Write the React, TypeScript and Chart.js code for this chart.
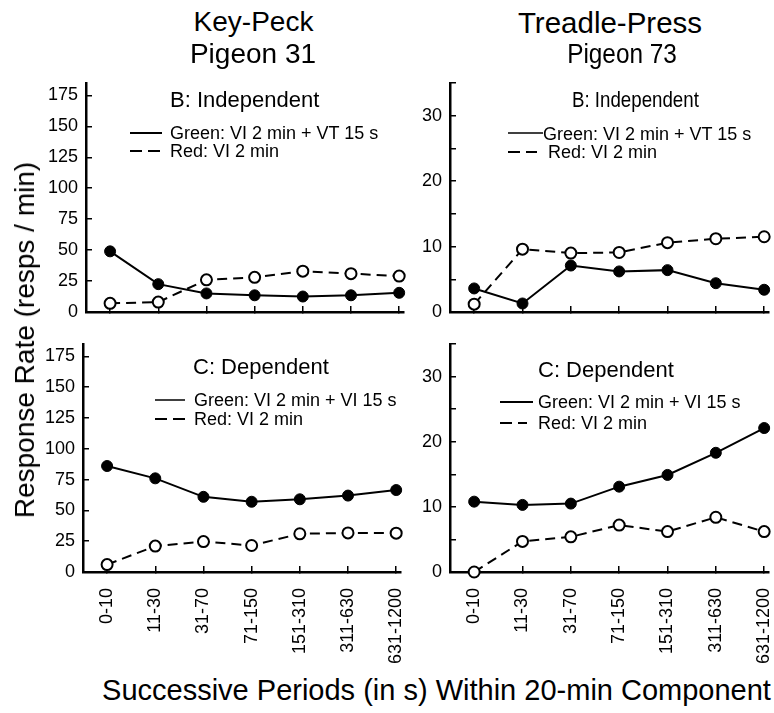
import React, { useEffect, useRef } from "react";
import { Chart, registerables } from "chart.js";

Chart.register(...registerables);

const FONT = '"Liberation Sans", Arial, Helvetica, sans-serif';
Chart.defaults.font.family = FONT;

// Category labels (successive periods, in s)
const periods = ["0-10", "11-30", "31-70", "71-150", "151-310", "311-630", "631-1200"];

// Key-Peck, Pigeon 31
const keyPeckIndepGreen = [49, 22.5, 15, 13.5, 12.5, 13.5, 15.5];
const keyPeckIndepRed = [7, 8, 26, 28, 33, 31, 29];
const keyPeckDepGreen = [86, 76, 61, 57, 59, 62, 66.5];
const keyPeckDepRed = [6, 21, 24.7, 21.5, 31, 31.7, 31.5];

// Treadle-Press, Pigeon 73
const treadleIndepGreen = [3.6, 1.3, 7.1, 6.2, 6.4, 4.4, 3.4];
const treadleIndepRed = [1.2, 9.6, 9.0, 9.1, 10.6, 11.2, 11.5];
const treadleDepGreen = [10.8, 10.3, 10.5, 13.1, 14.9, 18.3, 22.1];
const treadleDepRed = [0, 4.7, 5.4, 7.2, 6.2, 8.4, 6.2];

// Y axis settings
const keyPeckYMax = 185;
const keyPeckYTicks = [0, 25, 50, 75, 100, 125, 150, 175];
const keyPeckYLabels = ["0", "25", "50", "75", "100", "125", "150", "175"];
const treadleYMax = 35;
const treadleYTicks = [0, 5, 10, 15, 20, 25, 30, 35];
const treadleYLabels = ["0", "", "10", "", "20", "", "30", ""];

type Area = { l: number; r: number; t: number; b: number };

function Panel(props: {
  area: Area;
  yMax: number;
  yTicks: number[];
  yLabels: string[];
  green: number[];
  red: number[];
  showX: boolean;
}) {
  const { area, yMax, yTicks, yLabels, green, red, showX } = props;
  const ref = useRef<HTMLCanvasElement>(null);
  const padL = 90;
  const padT = 20;
  const padR = 14;
  const padB = showX ? 100 : 15;
  const left = area.l - padL;
  const top = area.t - padT;
  const w = area.r - area.l + padL + padR;
  const h = area.b - area.t + padT + padB;

  useEffect(() => {
    const chart = new Chart(ref.current as HTMLCanvasElement, {
      type: "line",
      data: {
        datasets: [
          {
            data: green.map((y, i) => ({ x: i, y })),
            borderColor: "#000",
            borderWidth: 2,
            pointRadius: 5.5,
            pointBackgroundColor: "#000",
            pointBorderColor: "#000",
            pointBorderWidth: 1,
            clip: false,
            tension: 0,
          },
          {
            data: red.map((y, i) => ({ x: i, y })),
            borderColor: "#000",
            borderWidth: 2,
            borderDash: [10, 6],
            pointRadius: 5.5,
            pointBackgroundColor: "#fff",
            pointBorderColor: "#000",
            pointBorderWidth: 2,
            clip: false,
            tension: 0,
          },
        ],
      },
      options: {
        responsive: false,
        animation: false,
        devicePixelRatio: 1,
        layout: { padding: { left: 0, top: padT, right: padR, bottom: 0 } },
        plugins: { legend: { display: false }, tooltip: { enabled: false } },
        events: [],
        scales: {
          x: {
            type: "linear",
            min: -0.5,
            max: 6.1,
            afterBuildTicks: (s: any) => {
              s.ticks = periods.map((_, i) => ({ value: i }));
            },
            afterFit: (s: any) => {
              s.height = padB;
              s.paddingLeft = 0;
              s.paddingRight = 0;
            },
            ticks: {
              autoSkip: false,
              display: showX,
              maxRotation: 90,
              minRotation: 90,
              padding: 22,
              color: "#000",
              font: { size: 18, family: FONT },
              callback: (v: any) => periods[Math.round(v as number)] ?? "",
            },
            grid: { drawOnChartArea: false, tickLength: -6, color: "#000", lineWidth: 1.5 },
            border: { color: "#000", width: 2.5 },
          },
          y: {
            type: "linear",
            min: 0,
            max: yMax,
            afterBuildTicks: (s: any) => {
              s.ticks = yTicks.map((v) => ({ value: v }));
            },
            afterFit: (s: any) => {
              s.width = padL;
              s.paddingTop = 0;
              s.paddingBottom = 0;
            },
            ticks: {
              autoSkip: false,
              padding: 14,
              color: "#000",
              font: { size: 18, family: FONT },
              callback: (v: any, i: number) => yLabels[i] ?? "",
            },
            grid: { drawOnChartArea: false, tickLength: -6, color: "#000", lineWidth: 1.5 },
            border: { color: "#000", width: 2.5 },
          },
        },
      },
    } as any);
    return () => chart.destroy();
  }, []);

  return (
    <canvas
      ref={ref}
      width={w}
      height={h}
      style={{ position: "absolute", left, top, width: w, height: h }}
    />
  );
}

function Txt(props: {
  x: number;
  y: number;
  size: number;
  center?: boolean;
  sx?: number;
  children: React.ReactNode;
}) {
  const { x, y, size, center, sx, children } = props;
  const parts: string[] = [];
  if (center) parts.push("translateX(-50%)");
  if (sx) parts.push(`scaleX(${sx})`);
  return (
    <div
      style={{
        position: "absolute",
        left: x,
        top: y,
        fontSize: size,
        lineHeight: 1,
        whiteSpace: "nowrap",
        fontFamily: FONT,
        color: "#000",
        transformOrigin: center ? "50% 50%" : "0 50%",
        transform: parts.length ? parts.join(" ") : undefined,
      }}
    >
      {children}
    </div>
  );
}

function LegendLine(props: { x1: number; x2: number; y: number; dashed?: boolean; width?: number }) {
  const { x1, x2, y, dashed, width = 2 } = props;
  return (
    <svg
      style={{ position: "absolute", left: x1, top: y - 3, overflow: "visible" }}
      width={x2 - x1}
      height={6}
    >
      <line
        x1={0}
        x2={x2 - x1}
        y1={3}
        y2={3}
        stroke="#000"
        strokeWidth={width}
        strokeDasharray={dashed ? "12 6" : undefined}
      />
    </svg>
  );
}

export default function App() {
  return (
    <div
      style={{
        position: "absolute",
        left: 0,
        top: 0,
        width: 774,
        height: 713,
        background: "#fff",
        overflow: "hidden",
        fontFamily: FONT,
      }}
    >
      <Panel area={{ l: 86, r: 404, t: 83, b: 312 }} yMax={keyPeckYMax} yTicks={keyPeckYTicks} yLabels={keyPeckYLabels} green={keyPeckIndepGreen} red={keyPeckIndepRed} showX={false} />
      <Panel area={{ l: 450, r: 769, t: 83, b: 312 }} yMax={treadleYMax} yTicks={treadleYTicks} yLabels={treadleYLabels} green={treadleIndepGreen} red={treadleIndepRed} showX={false} />
      <Panel area={{ l: 83, r: 401, t: 344, b: 572 }} yMax={keyPeckYMax} yTicks={keyPeckYTicks} yLabels={keyPeckYLabels} green={keyPeckDepGreen} red={keyPeckDepRed} showX={true} />
      <Panel area={{ l: 450, r: 769, t: 344, b: 572 }} yMax={treadleYMax} yTicks={treadleYTicks} yLabels={treadleYLabels} green={treadleDepGreen} red={treadleDepRed} showX={true} />

      {/* Column titles */}
      <Txt x={253.5} y={8} size={28} center>Key-Peck</Txt>
      <Txt x={253} y={39.6} size={28} center>Pigeon 31</Txt>
      <Txt x={610} y={8} size={29.5} center>Treadle-Press</Txt>
      <Txt x={622} y={39.6} size={28} center sx={0.87}>Pigeon 73</Txt>

      {/* Panel B left */}
      <Txt x={170} y={89.4} size={22}>B: Independent</Txt>
      <LegendLine x1={130} x2={162} y={133} />
      <Txt x={170} y={124.2} size={18}>Green: VI 2 min + VT 15 s</Txt>
      <LegendLine x1={130} x2={162} y={151} dashed />
      <Txt x={170} y={142.2} size={18}>Red: VI 2 min</Txt>

      {/* Panel B right */}
      <Txt x={572} y={89.4} size={22} sx={0.85}>B: Independent</Txt>
      <LegendLine x1={508} x2={543} y={133} width={1.5} />
      <Txt x={543} y={124.5} size={18}>Green: VI 2 min + VT 15 s</Txt>
      <LegendLine x1={508} x2={537} y={152} dashed />
      <Txt x={548} y={143} size={18}>Red: VI 2 min</Txt>

      {/* Panel C left */}
      <Txt x={193} y={356.4} size={22}>C: Dependent</Txt>
      <LegendLine x1={155} x2={185} y={400} width={1.5} />
      <Txt x={194} y={391.2} size={18}>Green: VI 2 min + VI 15 s</Txt>
      <LegendLine x1={155} x2={185} y={419} dashed />
      <Txt x={194} y={410.2} size={18}>Red: VI 2 min</Txt>

      {/* Panel C right */}
      <Txt x={538} y={359.4} size={22}>C: Dependent</Txt>
      <LegendLine x1={500} x2={533} y={401.7} />
      <Txt x={538} y={392.9} size={18}>Green: VI 2 min + VI 15 s</Txt>
      <LegendLine x1={500} x2={527} y={422.7} dashed />
      <Txt x={538} y={413.9} size={18}>Red: VI 2 min</Txt>

      {/* Y axis title */}
      <div
        style={{
          position: "absolute",
          left: 25.4,
          top: 340,
          fontSize: 28,
          lineHeight: 1,
          whiteSpace: "nowrap",
          fontFamily: FONT,
          transform: "translate(-50%, -50%) rotate(-90deg)",
        }}
      >
        Response Rate (resps / min)
      </div>

      {/* X axis title */}
      <Txt x={436.5} y={675.5} size={29} center>
        Successive Periods (in s) Within 20-min Component
      </Txt>
    </div>
  );
}
